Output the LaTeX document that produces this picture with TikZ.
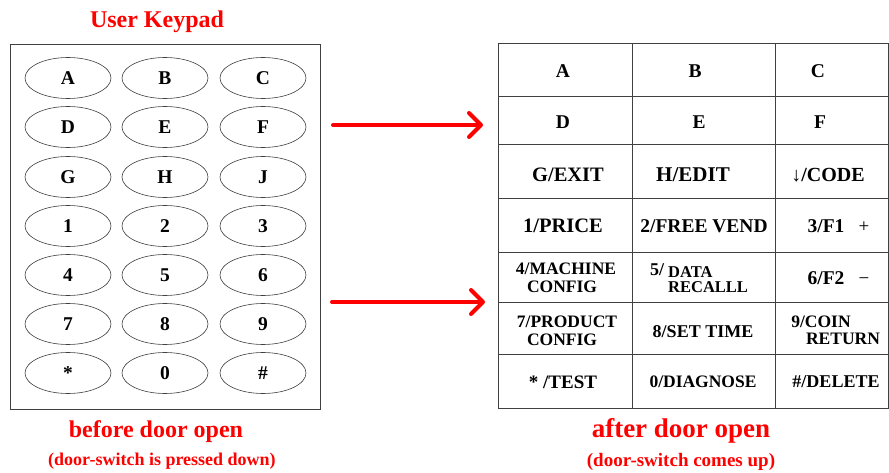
\documentclass[tikz,border=0pt]{standalone}
\usepackage{fontspec}
\setmainfont{Liberation Serif}
\usetikzlibrary{shapes.geometric,arrows.meta}
\definecolor{kred}{RGB}{255,0,0}
\tikzset{
  fs/.style={font=\fontsize{#1}{#1}\selectfont\bfseries},
  key/.style={ellipse, draw=black!75, line width=0.6pt, minimum width=86pt, minimum height=41pt, inner sep=0pt, fs=19.5},
  cell/.style={anchor=base, inner sep=0pt, fs=#1},
  cell/.default=19.5,
  two/.style={anchor=base west, inner sep=0pt, fs=#1, align=left},
  sign/.style={anchor=base, inner sep=0pt, font=\fontsize{19}{19}\selectfont},
  grid/.style={draw=black!75, line width=0.7pt},
  redtxt/.style={text=kred, inner sep=0pt, anchor=base, fs=#1},
  bigarrow/.style={draw=kred, line width=4pt, line cap=round, -{Straight Barb[length=12pt,width=24pt,line cap=round,round]}}
}
\begin{document}
\begin{tikzpicture}[x=1pt,y=-1pt]
\useasboundingbox (0,0) rectangle (889,473);
% Left keypad
\node[redtxt=24] (title) at (157,28) {User Keypad};
\draw[grid] (10,44) rectangle (320,409);
\foreach \r/\y/\a/\b/\c in {0/78/A/B/C,1/127/D/E/F,2/177/G/H/J,3/226/1/2/3,4/275/4/5/6,5/324/7/8/9,6/373/*/0/\#}{
  \node[key] (k\r a) at (68,\y) {\a};
  \node[key] (k\r b) at (165,\y) {\b};
  \node[key] (k\r c) at (263,\y) {\c};
}
\node[redtxt=24] (before) at (156,437) {before door open};
\node[redtxt=18] (beforesub) at (162,465) {(door-switch is pressed down)};
% Arrows
\coordinate (a1s) at (333,125); \coordinate (a1e) at (483,125);
\coordinate (a2s) at (332,302); \coordinate (a2e) at (485,302);
\draw[bigarrow] (a1s) -- (a1e);
\draw[bigarrow] (a2s) -- (a2e);
% Right table
\draw[grid] (498,43) rectangle (888,408);
\foreach \y in {96,144,198,252,302,354}{ \draw[grid] (498,\y) -- (888,\y); }
\draw[grid] (632,43) -- (632,408);
\draw[grid] (775,43) -- (775,408);
\node[cell] (tA) at (563,78) {A};
\node[cell] (tB) at (695,78) {B};
\node[cell] (tC) at (818,78) {C};
\node[cell] (tD) at (563,129) {D};
\node[cell] (tE) at (699,129) {E};
\node[cell] (tF) at (820,129) {F};
\node[cell=20.5] (tG) at (568,182) {G/EXIT};
\node[cell=21] (tH) at (693,182) {H/EDIT};
\node[cell=20] (tJ) at (828,182) {↓/CODE};
\node[cell=20.5] (t1) at (563,233) {1/PRICE};
\node[cell=19.5] (t2) at (704,233) {2/FREE VEND};
\node[cell=19.5] (t3) at (826,233) {3/F1};
\node[sign] (t3p) at (864,233) {+};
\node[cell=17.5] (t4a) at (566,275) {4/MACHINE};
\node[cell=17.5] (t4b) at (562,292) {CONFIG};
\node[cell=18, anchor=base west] (t5a) at (650,276) {5/};
\node[two=16.5] (t5b) at (668,277) {DATA};
\node[two=16.5] (t5c) at (668,292) {RECALLL};
\node[cell=19.5] (t6) at (826,284) {6/F2};
\node[sign] (t6m) at (864,284) {−};
\node[cell=17.5] (t7a) at (567,327) {7/PRODUCT};
\node[cell=17.5] (t7b) at (562,345) {CONFIG};
\node[cell=18] (t8) at (703,337) {8/SET TIME};
\node[cell=17.5] (t9a) at (821,327) {9/COIN};
\node[cell=17.5] (t9b) at (843,344) {RETURN};
\node[cell=19] (tS) at (563,388) {* /TEST};
\node[cell=17.5] (t0) at (703,387) {0/DIAGNOSE};
\node[cell=18] (tN) at (836,387) {\#/DELETE};
\node[redtxt=27] (after) at (681,437) {after door open};
\node[redtxt=19] (aftersub) at (681,466) {(door-switch comes up)};
\end{tikzpicture}
\end{document}
